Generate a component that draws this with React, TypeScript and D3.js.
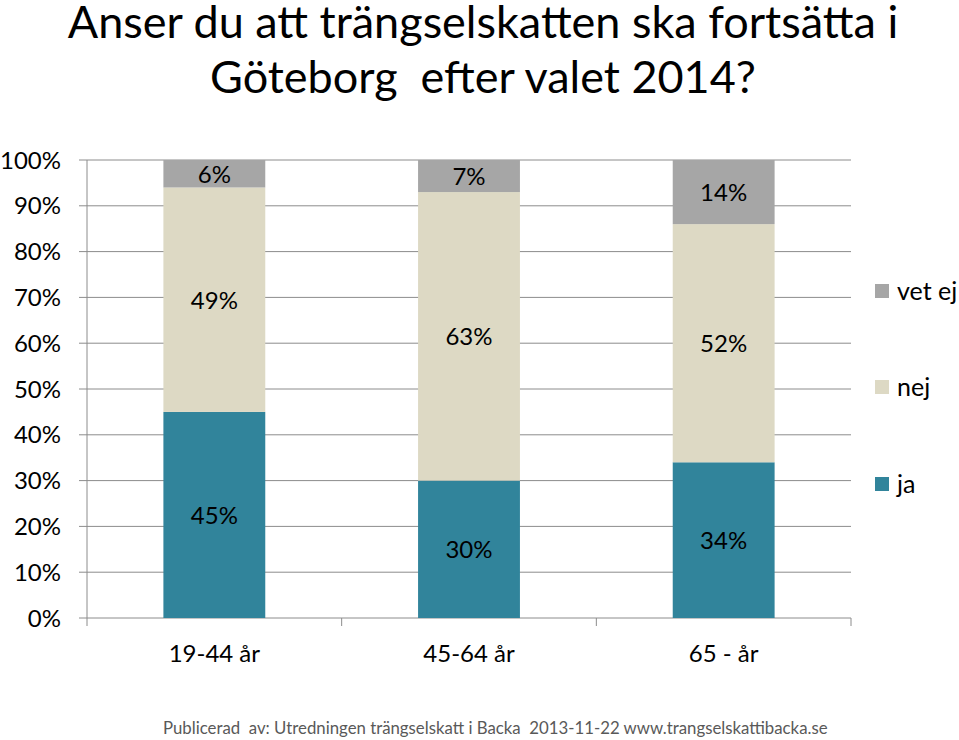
import React from "react";
import * as d3 from "d3";

const categories = ["19-44 år", "45-64 år", "65 - år"];
const seriesNames = ["ja", "nej", "vet ej"];
const jaValues = [45, 30, 34];
const nejValues = [49, 63, 52];
const vetEjValues = [6, 7, 14];
const yTicks = [0, 10, 20, 30, 40, 50, 60, 70, 80, 90, 100];
const colors: Record<string, string> = { ja: "#31849B", nej: "#DDD9C4", "vet ej": "#A6A6A6" };
const titleLines = ["Anser du att trängselskatten ska fortsätta i", "Göteborg  efter valet 2014?"];
const footer = "Publicerad  av: Utredningen trängselskatt i Backa  2013-11-22 www.trangselskattibacka.se";

const FONT = "Lato, 'Open Sans', sans-serif";

export default function App() {
  const W = 959, H = 740;
  const x0 = 87, x1 = 851, yTop = 160, yBot = 618;
  const x = d3.scaleBand<string>().domain(categories).range([x0, x1]).paddingInner(0.6).paddingOuter(0.3);
  const y = d3.scaleLinear().domain([0, 100]).range([yBot, yTop]);

  const rows = categories.map((c, i) => ({ cat: c, ja: jaValues[i], nej: nejValues[i], "vet ej": vetEjValues[i] }));
  const stack = d3.stack<any>().keys(seriesNames);
  const layers = stack(rows);

  const step = (x1 - x0) / categories.length;
  const catTicks = d3.range(categories.length + 1).map((i) => x0 + i * step);

  const legendY: Record<string, number> = { "vet ej": 291, nej: 387, ja: 484 };

  return (
    <svg width={W} height={H} style={{ position: "absolute", left: 0, top: 0, background: "#fff" }} fontFamily={FONT}>
      {titleLines.map((t, i) => (
        <text key={i} x={483} y={38 + i * 55} textAnchor="middle" fontSize={45} fill="#000" xmlSpace="preserve" style={{ whiteSpace: "pre" }}>
          {t}
        </text>
      ))}
      {yTicks.map((t) => (
        <g key={t}>
          <line x1={79} x2={x1} y1={y(t)} y2={y(t)} stroke="#8C8C8C" strokeWidth={1} />
          <text x={61} y={y(t) + 8.5} textAnchor="end" fontSize={24} fill="#000">{t}%</text>
        </g>
      ))}
      <line x1={x0} x2={x0} y1={yTop} y2={yBot} stroke="#8C8C8C" />
      {catTicks.map((t, i) => (
        <line key={i} x1={t} x2={t} y1={yBot} y2={yBot + 8} stroke="#8C8C8C" />
      ))}
      {layers.map((layer) => (
        <g key={layer.key}>
          {layer.map((d: any, i: number) => (
            <g key={i}>
              <rect x={x(categories[i])!} width={x.bandwidth()} y={y(d[1])} height={y(d[0]) - y(d[1])} fill={colors[layer.key]} />
              <text x={x(categories[i])! + x.bandwidth() / 2} y={(y(d[0]) + y(d[1])) / 2 + 9} textAnchor="middle" fontSize={24} fill="#000">
                {d[1] - d[0]}%
              </text>
            </g>
          ))}
        </g>
      ))}
      {categories.map((c) => (
        <text key={c} x={x(c)! + x.bandwidth() / 2} y={662} textAnchor="middle" fontSize={24} fill="#000">{c}</text>
      ))}
      {["vet ej", "nej", "ja"].map((k) => (
        <g key={k}>
          <rect x={875} y={legendY[k] - 7} width={14} height={14} fill={colors[k]} />
          <text x={897} y={legendY[k] + 9} fontSize={25} fill="#000">{k}</text>
        </g>
      ))}
      <text x={163} y={734} fontSize={16.8} fill="#595959" xmlSpace="preserve" style={{ whiteSpace: "pre" }}>{footer}</text>
    </svg>
  );
}
